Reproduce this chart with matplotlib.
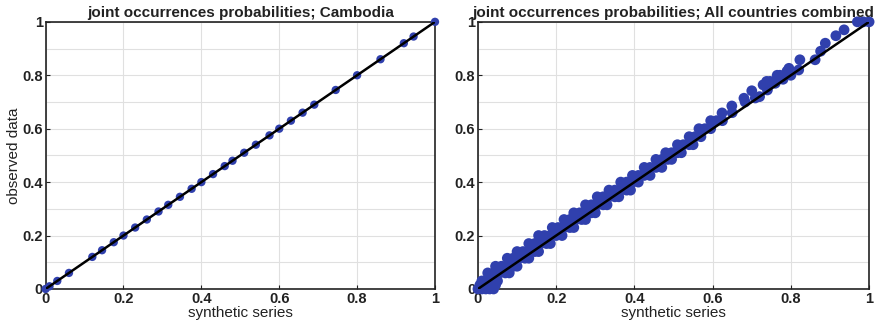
import matplotlib
matplotlib.use("Agg")
import matplotlib.pyplot as plt

plt.rcParams['font.family'] = ['Liberation Sans', 'DejaVu Sans']

# Cambodia: synthetic vs observed joint occurrence probabilities
camb_synth = [0.0, 0.01, 0.03, 0.06, 0.12, 0.145, 0.175, 0.2, 0.23, 0.26, 0.29,
              0.315, 0.345, 0.375, 0.4, 0.43, 0.46, 0.48, 0.51, 0.54, 0.575,
              0.6, 0.63, 0.66, 0.69, 0.745, 0.8, 0.86, 0.92, 0.945, 1.0]
camb_obs = [0.0, 0.01, 0.03, 0.06, 0.12, 0.145, 0.175, 0.2, 0.23, 0.26, 0.29,
            0.315, 0.345, 0.375, 0.4, 0.43, 0.46, 0.48, 0.51, 0.54, 0.575,
            0.6, 0.63, 0.66, 0.69, 0.745, 0.8, 0.86, 0.92, 0.945, 1.0]

# All countries: observed level -> synthetic values found at that level
all_rows = [
    (0.000, [0.000, 0.010, 0.020, 0.030, 0.040]),
    (0.015, [0.005, 0.020, 0.035, 0.045]),
    (0.030, [0.010, 0.025, 0.040, 0.050]),
    (0.060, [0.025, 0.040, 0.055, 0.070, 0.080]),
    (0.085, [0.045, 0.060, 0.075, 0.090, 0.100]),
    (0.115, [0.075, 0.090, 0.105, 0.120, 0.130]),
    (0.140, [0.100, 0.115, 0.130, 0.145, 0.155]),
    (0.170, [0.130, 0.145, 0.160, 0.175, 0.185]),
    (0.200, [0.155, 0.170, 0.185, 0.200, 0.215]),
    (0.230, [0.190, 0.205, 0.220, 0.235, 0.245]),
    (0.260, [0.220, 0.235, 0.250, 0.265, 0.275]),
    (0.285, [0.245, 0.260, 0.275, 0.290, 0.300]),
    (0.315, [0.275, 0.290, 0.305, 0.320, 0.330]),
    (0.345, [0.305, 0.320, 0.335, 0.350, 0.360]),
    (0.370, [0.335, 0.350, 0.365, 0.380, 0.390]),
    (0.400, [0.365, 0.380, 0.395, 0.410]),
    (0.425, [0.395, 0.410, 0.425, 0.440]),
    (0.455, [0.425, 0.440, 0.455, 0.470]),
    (0.485, [0.455, 0.470, 0.485, 0.495]),
    (0.510, [0.480, 0.495, 0.510, 0.520]),
    (0.540, [0.510, 0.525, 0.540, 0.550]),
    (0.570, [0.540, 0.555, 0.570]),
    (0.600, [0.565, 0.580, 0.595]),
    (0.630, [0.595, 0.610, 0.625]),
]
all_synth_hi = [0.624, 0.649, 0.65, 0.68, 0.683, 0.70, 0.709, 0.72, 0.729, 0.738,
                0.747, 0.74, 0.765, 0.772, 0.76, 0.79, 0.795, 0.78, 0.823, 0.80,
                0.82, 0.862, 0.876, 0.888, 0.915, 0.936, 0.97, 0.985, 1.0]
all_obs_hi = [0.659, 0.685, 0.66, 0.714, 0.70, 0.742, 0.715, 0.72, 0.764, 0.777,
              0.777, 0.745, 0.80, 0.80, 0.77, 0.815, 0.826, 0.785, 0.858, 0.80,
              0.82, 0.858, 0.89, 0.92, 0.948, 0.97, 1.0, 1.0, 1.0]

tick_vals = [0, 0.2, 0.4, 0.6, 0.8, 1]
tick_labels = ['0', '0.2', '0.4', '0.6', '0.8', '1']
minor_vals = [0.1, 0.3, 0.5, 0.7, 0.9]

all_synth = []
all_obs = []
for level, xs in all_rows:
    for v in xs:
        all_synth.append(v)
        all_obs.append(level)
all_synth += all_synth_hi
all_obs += all_obs_hi

dot_color = '#3040ad'

fig = plt.figure(figsize=(8.77, 3.36), dpi=100)
ax1 = fig.add_axes([0.052, 0.140, 0.444, 0.795])
ax2 = fig.add_axes([0.545, 0.140, 0.446, 0.795])


def style(ax, title):
    ax.set_xlim(0, 1)
    ax.set_ylim(0, 1)
    ax.set_xticks(tick_vals, tick_labels, fontweight='bold')
    ax.set_yticks(tick_vals, tick_labels, fontweight='bold')
    ax.set_yticks(minor_vals, minor=True)
    ax.grid(True, which='major', color='#e0e0e0', lw=0.8)
    ax.grid(True, which='minor', axis='y', color='#e0e0e0', lw=0.8)
    ax.set_axisbelow(True)
    ax.tick_params(which='both', direction='in', length=3, labelsize=10.5,
                   pad=2, colors='#222222')
    ax.tick_params(which='minor', length=0)
    for sp in ax.spines.values():
        sp.set_linewidth(1.2)
        sp.set_color('#222222')
    ax.set_title(title, fontsize=11, fontweight='bold', pad=3.5, color='#222222')
    ax.set_xlabel('synthetic series', fontsize=11, labelpad=0, color='#222222')


ax1.scatter(camb_synth, camb_obs, s=36, color=dot_color, edgecolors='none',
            zorder=3, clip_on=False)
ax1.plot([0, 1], [0, 1], color='black', lw=1.8, zorder=4)
style(ax1, 'joint occurrences probabilities; Cambodia')
ax1.set_ylabel('observed data', fontsize=11, labelpad=1, color='#222222')

ax2.scatter(all_synth, all_obs, s=60, color=dot_color, edgecolors='none',
            zorder=3, clip_on=False)
ax2.plot([0, 1], [0, 1], color='black', lw=1.8, zorder=4)
style(ax2, 'joint occurrences probabilities; All countries combined')

fig.savefig('out.png', dpi=100)
